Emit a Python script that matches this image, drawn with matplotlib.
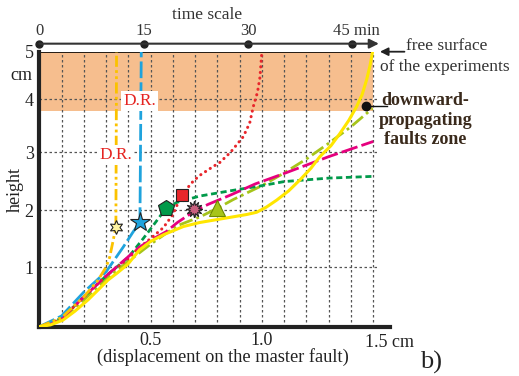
import numpy as np
import matplotlib
matplotlib.use("Agg")
import matplotlib.pyplot as plt

plt.rcParams["font.family"] = ["Liberation Serif", "DejaVu Serif"]

# displacement on the master fault (cm) -> height reached by the fault (cm)
yellow_x = [0, 0.05, 0.106, 0.16, 0.219, 0.26, 0.308, 0.35, 0.398, 0.45, 0.5, 0.56,
            0.647, 0.72, 0.81, 0.87, 0.93, 0.976, 1.02, 1.066, 1.12, 1.171, 1.22,
            1.26, 1.31, 1.35, 1.39, 1.425, 1.45, 1.47, 1.485, 1.497]
yellow_y = [0, 0.03, 0.11, 0.26, 0.45, 0.6, 0.78, 0.9, 1.05, 1.3, 1.45, 1.57,
            1.71, 1.78, 1.84, 1.88, 1.92, 1.96, 2.05, 2.17, 2.33, 2.52, 2.72,
            2.92, 3.12, 3.35, 3.6, 3.86, 4.1, 4.41, 4.7, 5.0]

magenta_x = [0, 0.1, 0.2, 0.3, 0.42, 0.45, 0.5, 0.57, 0.62, 0.7, 0.76, 0.86, 0.97,
             1.1, 1.3, 1.5]
magenta_y = [0, 0.13, 0.5, 0.85, 1.25, 1.35, 1.47, 1.62, 1.78, 1.99, 2.1, 2.26, 2.45,
             2.63, 2.92, 3.2]

green_x = [0, 0.1, 0.2, 0.3, 0.4, 0.467, 0.51, 0.567, 0.617, 0.72, 0.856, 1.0, 1.1,
           1.3, 1.5]
green_y = [0, 0.14, 0.5, 0.85, 1.17, 1.5, 1.72, 2.02, 2.13, 2.24, 2.33, 2.42, 2.49,
           2.55, 2.58]

red_x = [0, 0.1, 0.2, 0.3, 0.4, 0.437, 0.5, 0.557, 0.6, 0.639, 0.692, 0.722, 0.781,
         0.811, 0.86, 0.916, 0.945, 0.961, 0.98, 0.991, 0.999]
red_y = [0, 0.13, 0.5, 0.85, 1.15, 1.3, 1.5, 1.69, 1.92, 2.26, 2.5, 2.6, 2.75,
         2.82, 3.0, 3.29, 3.55, 3.86, 4.15, 4.46, 4.96]

lime_x = [0, 0.1, 0.2, 0.3, 0.4, 0.5, 0.617, 0.722, 0.8, 0.871, 1.0, 1.096, 1.2,
          1.298, 1.4, 1.497]
lime_y = [0, 0.12, 0.45, 0.8, 1.1, 1.4, 1.72, 1.88, 2.03, 2.18, 2.42, 2.63, 2.88,
          3.16, 3.48, 3.83]

blue_x = [0, 0.1, 0.2, 0.3, 0.377, 0.422, 0.452, 0.458]
blue_y = [0, 0.18, 0.58, 0.92, 1.35, 1.62, 1.78, 5.0]

orange_x = [0, 0.1, 0.2, 0.264, 0.3, 0.316, 0.332, 0.344, 0.347]
orange_y = [0, 0.15, 0.5, 0.78, 1.0, 1.17, 1.47, 1.70, 5.0]

# end-of-run markers
star6_pt = (0.344, 1.70)
star_pt = (0.452, 1.79)
pentagon_pt = (0.567, 2.03)
square_pt = (0.639, 2.26)
gear_pt = (0.696, 2.02)
triangle_pt = (0.80, 2.04)
front_pt = (1.466, 3.88)

zone_bottom = 3.78
time_ticks = [0, 15, 30, 45]
MIN_PER_CM = 32.0

# measured tick spacing of the (slightly non-uniform) height axis
_h_vals = [-1, 0, 1, 2, 3, 4, 5, 6]
_h_pos = [-59.7, 0, 59.7, 116.7, 174.7, 227.4, 275.0, 334.7]


def fwd(y):
    return np.interp(y, _h_vals, _h_pos)


def inv(h):
    return np.interp(h, _h_pos, _h_vals)


fig = plt.figure(figsize=(5.19, 3.76), dpi=100)
ax = fig.add_axes([0.0757, 0.1311, 0.6757, 0.7314])
ax.set_yscale("function", functions=(fwd, inv))
ax.set_xlim(0, 1.575)
ax.set_ylim(0, 5)

ax.fill_between([0, 1.5], zone_bottom, 5, color="#F6BE8E", lw=0, zorder=0)

grid_kw = dict(color="#555555", lw=0.9, linestyle=(0, (2, 2)), zorder=1)
ax.vlines(np.arange(1, 16) / 10, 0, 5, **grid_kw)
ax.hlines([1, 2, 3, 4], 0, 1.52, **grid_kw)
ax.hlines(5, 0, 1.5, color="black", lw=1.2, zorder=2)

lw = 2.0
ax.plot(lime_x, lime_y, color="#A6C41A", lw=lw, linestyle=(0, (5, 1.5, 1, 1.5)), zorder=3)
ax.plot(green_x, green_y, color="#009A4A", lw=lw, linestyle=(0, (2.2, 1.3)), zorder=3)
ax.plot(red_x, red_y, color="#E8262B", lw=2.2, linestyle=(0, (0.05, 1.8)),
        dash_capstyle="round", zorder=3)
ax.plot(magenta_x, magenta_y, color="#E6007E", lw=lw, linestyle=(0, (6, 1.5)), zorder=4)
ax.plot(blue_x, blue_y, color="#1FA3DD", lw=lw, linestyle=(0, (6, 1.5)), zorder=4)
ax.plot(orange_x, orange_y, color="#FBC200", lw=lw,
        linestyle=(0, (4, 1.2, 1, 1.2, 1, 1.2)), zorder=4)
ax.plot(yellow_x, yellow_y, color="#FFE600", lw=2.2, zorder=5)

mk = dict(markeredgecolor="#222222", markeredgewidth=0.8, zorder=6, clip_on=False)
ax.plot(*star6_pt, marker=(6, 1, 0), ms=10, markerfacecolor="#FFF4A0", **mk)
ax.plot(*star_pt, marker="*", ms=15, markerfacecolor="#1FA3DD", **mk)
ax.plot(*pentagon_pt, marker="p", ms=12, markerfacecolor="#009A4A", **mk)
ax.plot(*square_pt, marker="s", ms=8, markerfacecolor="#E8262B", **mk)
ax.plot(*gear_pt, marker=(12, 1, 0), ms=12, markerfacecolor="#C8607E", **mk)
ax.plot(*triangle_pt, marker="^", ms=11, markerfacecolor="#A6C41A",
        markeredgecolor="#6E8A00", markeredgewidth=0.8, zorder=6)
ax.plot(*front_pt, marker="o", ms=6, color="#111111", zorder=7, clip_on=False)
ax.plot([front_pt[0], 1.56], [front_pt[1], front_pt[1]], color="#111111", lw=1,
        zorder=7, clip_on=False)

dr_box = dict(facecolor="white", edgecolor="none", pad=1.5)
ax.text(0.452, 3.96, "D.R.", color="#E52421", fontsize=12.5, ha="center", va="center",
        bbox=dr_box, zorder=8)
ax.text(0.344, 2.95, "D.R.", color="#E52421", fontsize=12.5, ha="center", va="center",
        bbox=dr_box, zorder=8)

# axes styling
for side in ("top", "right"):
    ax.spines[side].set_visible(False)
for side in ("left", "bottom"):
    ax.spines[side].set_linewidth(3)
    ax.spines[side].set_color("#222222")
ax.set_xticks([0.5, 1.0])
ax.set_xticklabels(["0.5", "1.0"])
ax.set_yticks([1, 2, 3, 4, 5])
ax.set_yticklabels(["1", "2", "3", "4", "5"])
ax.tick_params(length=0, labelsize=13, colors="#222222", pad=4)
ax.text(1.462, -0.12, "1.5 cm", fontsize=13, ha="left", va="top", color="#222222")
ax.text(-0.03, 4.51, "cm", fontsize=13, ha="right", va="center", color="#222222")
ax.text(0.826, -0.35, "(displacement on the master fault)", fontsize=13.2, ha="center",
        va="top", color="#222222")
fig.text(15 / 519, 1 - 190 / 376, "height", rotation=90, fontsize=13,
         ha="center", va="center", color="#222222")
fig.text(431 / 519, 1 - 362 / 376, "b)", fontsize=19, ha="center", va="center",
         color="#222222")

# time scale above the plot
trans = ax.get_xaxis_transform()
ty = 1 + 8 / 274
tx = [t / MIN_PER_CM for t in time_ticks]
ax.annotate("", xy=(1.525, ty), xytext=(0, ty), xycoords=trans, textcoords=trans,
            arrowprops=dict(arrowstyle="-|>", color="#333333", lw=1.5,
                            mutation_scale=14, shrinkA=0, shrinkB=0),
            annotation_clip=False)
ax.plot(tx, [ty] * len(tx), "o", color="#222222", ms=5, transform=trans, clip_on=False)
for t, x in zip(time_ticks[:-1], tx[:-1]):
    ax.text(x, ty + 0.047, str(t), transform=trans, fontsize=12, ha="center",
            va="center", color="#333333")
ax.text(tx[-1] - 0.085, ty + 0.047, f"{time_ticks[-1]} min", transform=trans,
        fontsize=12, ha="left", va="center", color="#333333")
ax.text(0.753, ty + 0.106, "time scale", transform=trans, fontsize=12.5, ha="center",
        va="center", color="#333333")

# side annotations
ax.annotate("", xy=(1.53, 5.0), xytext=(1.64, 5.0),
            arrowprops=dict(arrowstyle="-|>", color="#222222", lw=1.3,
                            mutation_scale=12, shrinkA=0, shrinkB=0),
            annotation_clip=False)
ax.text(1.645, 5.09, "free surface", fontsize=12.5, ha="left", va="center",
        color="#333333")
ax.text(1.53, 4.68, "of the experiments", fontsize=12.5, ha="left", va="center",
        color="#333333")
ax.text(1.735, 3.6, "downward-\npropagating\nfaults zone", fontsize=13,
        fontweight="bold", ha="center", va="center", color="#3A2A1C",
        linespacing=1.2)

fig.savefig("out.png", dpi=100)
